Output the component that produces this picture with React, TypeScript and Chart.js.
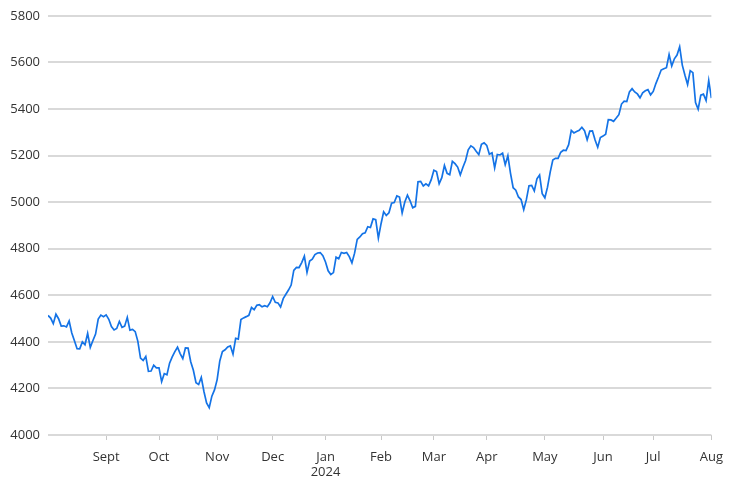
import React, { useEffect, useRef } from 'react';
import { Chart, registerables } from 'chart.js';

Chart.register(...registerables);

// Daily closes, grouped by month (trading days)
const aug2023 = [4513.39, 4501.89, 4478.03, 4518.44, 4499.38, 4467.71, 4468.83, 4464.05, 4489.72, 4437.86, 4404.33, 4370.36, 4369.71, 4399.77, 4387.55, 4436.01, 4376.31, 4405.71, 4433.31, 4497.63, 4514.87, 4507.66];
const sep2023 = [4515.77, 4496.83, 4465.48, 4451.14, 4457.49, 4487.46, 4461.9, 4467.44, 4505.1, 4450.32, 4453.53, 4443.95, 4402.2, 4330.0, 4320.06, 4337.44, 4273.53, 4274.51, 4299.7, 4288.05];
const oct2023 = [4288.39, 4229.45, 4263.75, 4258.19, 4308.5, 4335.66, 4358.24, 4376.95, 4349.61, 4327.78, 4373.63, 4373.2, 4314.6, 4278.0, 4224.16, 4217.04, 4247.68, 4186.77, 4137.23, 4117.37, 4166.82, 4193.8];
const nov2023 = [4237.86, 4317.78, 4358.34, 4365.98, 4378.38, 4382.78, 4347.35, 4415.24, 4411.55, 4495.7, 4502.88, 4508.24, 4514.02, 4547.38, 4538.19, 4556.62, 4559.34, 4550.43, 4554.89, 4550.58, 4567.8];
const dec2023 = [4594.63, 4569.78, 4567.18, 4549.34, 4585.59, 4604.37, 4622.44, 4643.7, 4707.09, 4719.55, 4719.19, 4740.56, 4768.37, 4698.35, 4746.75, 4754.63, 4774.75, 4781.58, 4783.35, 4769.83];
const jan2024 = [4742.83, 4704.81, 4688.68, 4697.24, 4763.54, 4756.5, 4783.45, 4780.24, 4783.83, 4765.98, 4739.21, 4780.94, 4839.81, 4850.43, 4864.6, 4868.55, 4894.16, 4890.97, 4927.93, 4924.97, 4845.65];
const feb2024 = [4906.19, 4958.61, 4942.81, 4954.23, 4995.06, 4997.91, 5026.61, 5021.84, 4953.17, 5000.62, 5029.73, 5005.57, 4975.51, 4981.8, 5087.03, 5088.8, 5069.53, 5078.18, 5069.76, 5096.27];
const mar2024 = [5137.08, 5130.95, 5078.65, 5104.76, 5157.36, 5123.69, 5117.94, 5175.27, 5165.31, 5150.48, 5117.09, 5149.42, 5178.51, 5224.62, 5241.53, 5234.18, 5218.19, 5203.58, 5248.49, 5254.35];
const apr2024 = [5243.77, 5205.81, 5211.49, 5147.21, 5204.34, 5202.39, 5209.91, 5160.64, 5199.06, 5123.41, 5061.82, 5051.41, 5022.21, 5011.12, 4967.23, 5010.6, 5070.55, 5071.63, 5048.42, 5099.96, 5116.17, 5035.69];
const may2024 = [5018.39, 5064.2, 5127.79, 5180.74, 5187.7, 5187.67, 5214.08, 5222.68, 5221.42, 5246.68, 5308.15, 5297.1, 5303.27, 5308.13, 5321.41, 5307.01, 5267.84, 5304.72, 5306.04, 5266.95, 5235.48, 5277.51];
const jun2024 = [5283.4, 5291.34, 5354.03, 5352.96, 5346.99, 5360.79, 5375.32, 5421.03, 5433.74, 5431.6, 5473.23, 5487.03, 5473.17, 5464.62, 5447.87, 5469.3, 5477.9, 5482.87, 5460.48];
const jul2024 = [5475.09, 5509.01, 5537.02, 5567.19, 5572.85, 5576.98, 5633.91, 5584.54, 5615.35, 5631.22, 5667.2, 5588.27, 5544.59, 5505.0, 5564.41, 5555.74, 5427.13, 5399.22, 5459.1, 5463.54, 5436.44, 5522.3];
const aug2024 = [5446.68];

const monthSeries = [aug2023, sep2023, oct2023, nov2023, dec2023, jan2024, feb2024, mar2024, apr2024, may2024, jun2024, jul2024, aug2024];
const monthLabels: (string | string[])[] = ['', 'Sept', 'Oct', 'Nov', 'Dec', ['Jan', '2024'], 'Feb', 'Mar', 'Apr', 'May', 'Jun', 'Jul', 'Aug'];
const yTickValues = [4000, 4200, 4400, 4600, 4800, 5000, 5200, 5400, 5600, 5800];

export default function App() {
  const ref = useRef<HTMLCanvasElement>(null);
  useEffect(() => {
    document.body.style.margin = '0';
    const points: { x: number; y: number }[] = [];
    const tickMap: Record<number, string | string[]> = {};
    let idx = 0;
    monthSeries.forEach((arr, m) => {
      if (m > 0) tickMap[idx] = monthLabels[m];
      arr.forEach((v) => {
        points.push({ x: idx, y: v });
        idx++;
      });
    });
    const tickIdx = Object.keys(tickMap).map(Number);
    const font = { family: '"Open Sans", sans-serif', size: 13 };
    const chart = new Chart(ref.current!, {
      type: 'line',
      data: {
        datasets: [
          {
            data: points,
            borderColor: '#1473e6',
            borderWidth: 1.7,
            pointRadius: 0,
            tension: 0,
            fill: false,
          },
        ],
      },
      options: {
        animation: false,
        responsive: false,
        layout: { padding: { top: 15, right: 19, left: 0, bottom: 0 } },
        plugins: { legend: { display: false }, tooltip: { enabled: false } },
        scales: {
          x: {
            type: 'linear',
            min: 0,
            max: points.length - 1,
            afterBuildTicks: (s: any) => {
              s.ticks = tickIdx.map((v) => ({ value: v }));
            },
            afterFit: (s: any) => {
              s.height = 55;
            },
            ticks: {
              autoSkip: false,
              maxRotation: 0,
              padding: 9,
              color: '#333333',
              font,
              callback: (v: any) => tickMap[v as number] ?? '',
            },
            grid: {
              drawOnChartArea: false,
              drawTicks: true,
              tickLength: 5,
              color: '#c8c8c8',
              lineWidth: 1,
            },
            border: { display: false },
          },
          y: {
            min: 4000,
            max: 5800,
            afterBuildTicks: (s: any) => {
              s.ticks = yTickValues.map((v) => ({ value: v }));
            },
            afterFit: (s: any) => {
              s.width = 48;
            },
            ticks: { padding: 8, color: '#333333', font, callback: (v: any) => String(v) },
            grid: { color: '#d9d9d9', lineWidth: 2, drawTicks: false },
            border: { display: false },
          },
        },
      },
    });
    return () => chart.destroy();
  }, []);
  return (
    <div style={{ width: 732, height: 490 }}>
      <canvas ref={ref} width={732} height={490} />
    </div>
  );
}
